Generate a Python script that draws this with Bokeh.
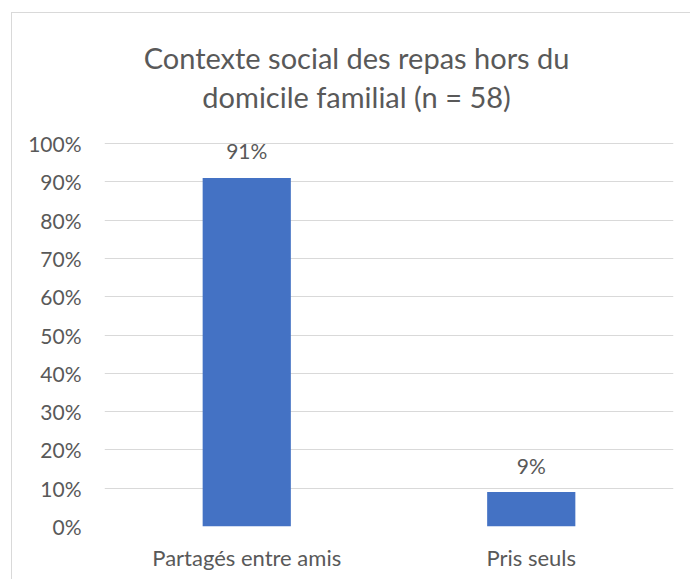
from bokeh.plotting import figure
from bokeh.models import ColumnDataSource, FactorRange, Range1d, NumeralTickFormatter, FixedTicker, Label
from bokeh.core.properties import value
from bokeh.embed import file_html
from bokeh.resources import INLINE

categories = ["Partagés entre amis", "Pris seuls"]
shares = [0.91, 0.09]
share_labels = ["91%", "9%"]
y_ticks = [0.0, 0.1, 0.2, 0.3, 0.4, 0.5, 0.6, 0.7, 0.8, 0.9, 1.0]
title_lines = ["Contexte social des repas hors du", "domicile familial (n = 58)"]

FONT = "Lato"
TXT = "#595959"
GRID = "#d9d9d9"
BAR = "#4472C4"

# plot geometry (pixels)
PX_PER_UNIT = 383          # height of 0..100 %
FRAME_H = 513              # frame extends up to the top of the chart box

source = ColumnDataSource(dict(cat=categories, val=shares, lab=share_labels))

p = figure(
    x_range=FactorRange(factors=categories, range_padding=0, factor_padding=0),
    y_range=Range1d(0, FRAME_H / PX_PER_UNIT),
    frame_width=569, frame_height=FRAME_H,
    min_border_left=92, min_border_right=17, min_border_top=0, min_border_bottom=53,
    output_backend="svg", toolbar_location=None,
    margin=(12, 0, 0, 11),
)
p.styles = {"border-left": "1px solid #d9d9d9", "border-top": "1px solid #d9d9d9"}
p.outline_line_color = None
p.background_fill_color = "white"
p.border_fill_color = "white"

p.vbar(x="cat", top="val", width=0.31, source=source, color=BAR, line_color=None)
p.text(x="cat", y="val", text="lab", source=source, text_align="center",
       text_baseline="alphabetic", y_offset=-27, text_font=value(FONT),
       text_font_size="21px", text_color=TXT)

p.xgrid.grid_line_color = None
p.ygrid.grid_line_color = GRID
p.ygrid.grid_line_width = 1
p.yaxis.ticker = FixedTicker(ticks=y_ticks)
p.yaxis.formatter = NumeralTickFormatter(format="0%")

for ax in (p.xaxis, p.yaxis):
    ax.axis_line_color = None
    ax.major_tick_line_color = None
    ax.minor_tick_line_color = None
    ax.major_tick_out = 0
    ax.major_tick_in = 0
    ax.major_label_text_font = FONT
    ax.major_label_text_color = TXT
p.yaxis.major_label_text_font_size = "21px"
p.xaxis.major_label_text_font_size = "22px"
p.yaxis.major_label_standoff = 23
p.xaxis.major_label_standoff = 17

title_y = [1.225, 1.124]
for line, ty in zip(title_lines, title_y):
    p.add_layout(Label(x=0.886, y=ty, text=line, text_align="center",
                       text_baseline="alphabetic", text_font=FONT,
                       text_font_size="29px", text_color=TXT))

open("out.html", "w").write(file_html(p, INLINE))
